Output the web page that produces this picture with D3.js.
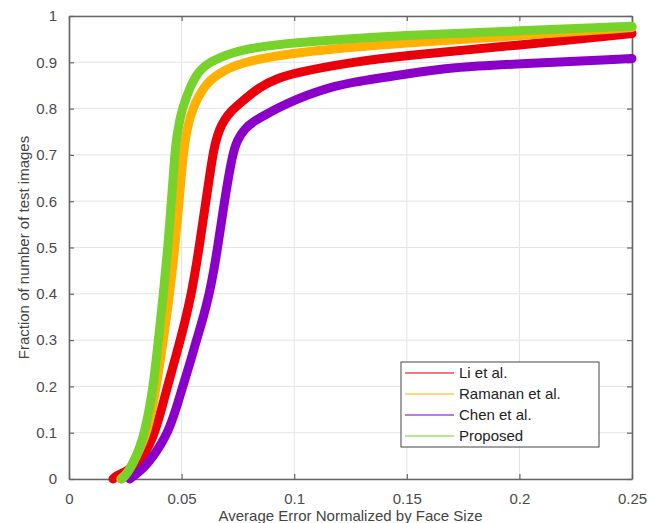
<!DOCTYPE html>
<html>
<head>
<meta charset="utf-8">
<script src="https://cdn.jsdelivr.net/npm/d3@7"></script>
<style>
  html, body { margin: 0; padding: 0; background: #fff; }
  svg { display: block; }
</style>
</head>
<body>
<div id="chart"></div>
<script>
// series names, in plot order (last drawn on top)
const seriesNames = ['Li et al.', 'Ramanan et al.', 'Chen et al.', 'Proposed'];
const seriesColors = ['#e8000b', '#ffb000', '#8a00c8', '#77d22c'];

// [normalized error, fraction]
const liData = [
  [0.0195, 0], [0.021, 0.007], [0.023, 0.011], [0.026, 0.018], [0.030, 0.032],
  [0.033, 0.05], [0.0357, 0.073], [0.038, 0.1], [0.041, 0.148], [0.0437, 0.2],
  [0.0495, 0.3], [0.0545, 0.4], [0.0578, 0.5], [0.0608, 0.6], [0.0638, 0.7],
  [0.0652, 0.73], [0.0668, 0.755], [0.069, 0.776], [0.072, 0.795], [0.076, 0.812],
  [0.0848, 0.848], [0.092, 0.864], [0.1, 0.877], [0.125, 0.9], [0.15, 0.915],
  [0.2, 0.937], [0.25, 0.962]
];
const ramananData = [
  [0.023, 0], [0.026, 0.012], [0.0295, 0.045], [0.035, 0.1], [0.0388, 0.2],
  [0.0419, 0.3], [0.0447, 0.4], [0.047, 0.5], [0.0489, 0.6], [0.0506, 0.7],
  [0.0525, 0.76], [0.0548, 0.8], [0.060, 0.85], [0.066, 0.875], [0.076, 0.9],
  [0.1, 0.922], [0.15, 0.943], [0.2, 0.957], [0.25, 0.975]
];
const chenData = [
  [0.027, 0], [0.0335, 0.025], [0.0375, 0.05], [0.0408, 0.075], [0.0438, 0.1],
  [0.0475, 0.15], [0.0505, 0.2], [0.0537, 0.25], [0.0566, 0.3], [0.0597, 0.35],
  [0.0623, 0.4], [0.0643, 0.45], [0.066, 0.5], [0.069, 0.6], [0.0725, 0.7],
  [0.0747, 0.732], [0.0778, 0.756], [0.0825, 0.774], [0.088, 0.789], [0.094, 0.804],
  [0.1, 0.818], [0.1115, 0.84], [0.125, 0.857], [0.15, 0.875], [0.17, 0.889],
  [0.2, 0.897], [0.25, 0.908]
];
const proposedData = [
  [0.0235, 0], [0.026, 0.012], [0.0285, 0.035], [0.031, 0.062], [0.0335, 0.1],
  [0.0356, 0.15], [0.0374, 0.2], [0.0397, 0.3], [0.0419, 0.4], [0.0439, 0.5],
  [0.0455, 0.6], [0.0469, 0.7], [0.0481, 0.75], [0.0502, 0.8], [0.054, 0.85],
  [0.0575, 0.88], [0.062, 0.9], [0.075, 0.928], [0.1, 0.943], [0.15, 0.959],
  [0.2, 0.968], [0.25, 0.978]
];
const allSeries = [liData, ramananData, chenData, proposedData];

const xTicks = [0, 0.05, 0.1, 0.15, 0.2, 0.25];
const yTicks = [0, 0.1, 0.2, 0.3, 0.4, 0.5, 0.6, 0.7, 0.8, 0.9, 1];
const xLabel = 'Average Error Normalized by Face Size';
const yLabel = 'Fraction of number of test images';

const width = 657, height = 523;
const margin = { top: 16, right: 25, bottom: 44, left: 69 };
const plotW = width - margin.left - margin.right;
const plotH = height - margin.top - margin.bottom;

const svg = d3.select('#chart').append('svg')
  .attr('width', width)
  .attr('height', height)
  .attr('viewBox', `0 0 ${width} ${height}`);

const g = svg.append('g').attr('transform', `translate(${margin.left},${margin.top})`);

const x = d3.scaleLinear().domain([0, 0.25]).range([0, plotW]);
const y = d3.scaleLinear().domain([0, 1]).range([plotH, 0]);

const font = '"Liberation Sans", Arial, Helvetica, sans-serif';
const axisColor = '#666';

// grid
g.append('g').selectAll('line.gx').data(xTicks).join('line')
  .attr('x1', d => x(d)).attr('x2', d => x(d))
  .attr('y1', 0).attr('y2', plotH)
  .attr('stroke', '#e4e4e4').attr('stroke-width', 1);
g.append('g').selectAll('line.gy').data(yTicks).join('line')
  .attr('x1', 0).attr('x2', plotW)
  .attr('y1', d => y(d)).attr('y2', d => y(d))
  .attr('stroke', '#e4e4e4').attr('stroke-width', 1);

// axes with inward ticks on all four sides
const styleAxis = sel => {
  sel.select('.domain').attr('stroke', axisColor).attr('stroke-width', 1.6);
  sel.selectAll('.tick line').attr('stroke', axisColor).attr('stroke-width', 1.2);
  sel.selectAll('.tick text')
    .attr('fill', '#4a4a4a')
    .style('font-family', font)
    .style('font-size', '15px');
};

g.append('g')
  .attr('transform', `translate(0,${plotH})`)
  .call(d3.axisBottom(x).tickValues(xTicks).tickFormat(d3.format('')).tickSizeInner(-5).tickSizeOuter(0).tickPadding(14))
  .call(styleAxis);
g.append('g')
  .call(d3.axisLeft(y).tickValues(yTicks).tickFormat(d3.format('')).tickSizeInner(-5).tickSizeOuter(0).tickPadding(12))
  .call(styleAxis);
g.append('g')
  .call(d3.axisTop(x).tickValues(xTicks).tickFormat('').tickSizeInner(-5).tickSizeOuter(0))
  .call(styleAxis);
g.append('g')
  .attr('transform', `translate(${plotW},0)`)
  .call(d3.axisRight(y).tickValues(yTicks).tickFormat('').tickSizeInner(-5).tickSizeOuter(0))
  .call(styleAxis);

// curves
const line = d3.line()
  .x(d => x(d[0]))
  .y(d => y(d[1]))
  .curve(d3.curveBasis);

g.append('g').selectAll('path.curve').data(allSeries).join('path')
  .attr('class', 'curve')
  .attr('d', line)
  .attr('fill', 'none')
  .attr('stroke', (d, i) => seriesColors[i])
  .attr('stroke-width', 9)
  .attr('stroke-linecap', 'round')
  .attr('stroke-linejoin', 'round');

// legend
const legend = svg.append('g').attr('transform', 'translate(401,362)');
legend.append('rect')
  .attr('width', 198).attr('height', 85)
  .attr('fill', '#fff')
  .attr('stroke', '#444').attr('stroke-width', 1);
const rows = legend.selectAll('g.row').data(seriesNames).join('g')
  .attr('transform', (d, i) => `translate(0,${11 + i * 21})`);
rows.append('line')
  .attr('x1', 4).attr('x2', 53)
  .attr('stroke', (d, i) => seriesColors[i])
  .attr('stroke-opacity', 0.7)
  .attr('stroke-width', 1.3);
rows.append('text')
  .attr('x', 58).attr('dy', '0.35em')
  .attr('fill', '#222')
  .style('font-family', font)
  .style('font-size', '15px')
  .text(d => d);

// axis labels
svg.append('text')
  .attr('x', margin.left + plotW / 2).attr('y', 521)
  .attr('text-anchor', 'middle')
  .attr('fill', '#444')
  .style('font-family', font)
  .style('font-size', '15px')
  .text(xLabel);
svg.append('text')
  .attr('transform', `translate(29,${margin.top + plotH / 2}) rotate(-90)`)
  .attr('text-anchor', 'middle')
  .attr('fill', '#444')
  .style('font-family', font)
  .style('font-size', '15px')
  .text(yLabel);
</script>
</body>
</html>
